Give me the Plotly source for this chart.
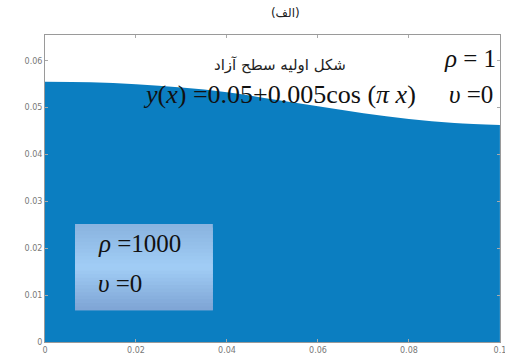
import plotly.graph_objects as go

# Initial free-surface profile sampled along the tank
x_vals = [0.0, 0.01, 0.02, 0.03, 0.04, 0.05, 0.06, 0.07, 0.08, 0.09, 0.1]
surface = [0.0555, 0.0554, 0.0550, 0.0543, 0.0533, 0.0518, 0.0503, 0.0488, 0.0476, 0.0467, 0.0463]

x_ticks = [0, 0.02, 0.04, 0.06, 0.08, 0.1]
x_tick_text = ["0", "0.02", "0.04", "0.06", "0.08", "0.1"]
y_ticks = [0, 0.01, 0.02, 0.03, 0.04, 0.05, 0.06]
y_tick_text = ["0", "0.01", "0.02", "0.03", "0.04", "0.05", "0.06"]

water_color = "#0b7ec1"

fig = go.Figure()
fig.add_trace(go.Scatter(
    x=x_vals, y=surface, mode="lines", fill="tozeroy",
    line=dict(color=water_color, width=0, shape="spline"),
    fillcolor=water_color, hoverinfo="skip", showlegend=False,
))

# Gradient panel behind the lower-fluid properties (overlapping strips, top to bottom)
box_x0, box_x1 = 0.0066, 0.0369
box_y0, box_y1 = 0.0068, 0.0252
stops = 24
top_rgb = (138, 180, 224)
mid_rgb = (162, 206, 246)
bot_rgb = (128, 166, 214)
step = (box_y1 - box_y0) / stops
for i in range(stops):
    t = i / (stops - 1)
    if t < 0.5:
        a, b, f = top_rgb, mid_rgb, t / 0.5
    else:
        a, b, f = mid_rgb, bot_rgb, (t - 0.5) / 0.5
    c = tuple(int(a[k] + (b[k] - a[k]) * f) for k in range(3))
    y_hi = box_y1 - step * i
    y_lo = max(box_y0, y_hi - step * 2)
    fig.add_shape(type="rect", xref="x", yref="y",
                  x0=box_x0, x1=box_x1, y0=y_lo, y1=y_hi,
                  fillcolor="rgb(%d,%d,%d)" % c, line=dict(width=0), layer="above")

serif = "Liberation Serif, Times New Roman, serif"
fig.add_annotation(text="شکل اولیه سطح آزاد", xref="paper", yref="paper",
                   x=0.516, y=0.902, xanchor="center", yanchor="middle", showarrow=False,
                   font=dict(family="DejaVu Sans, Noto Sans", size=15, color="#222"))
fig.add_annotation(text="<i>y</i>(<i>x</i>) =0.05+0.005cos (<i>π x</i>)",
                   xref="paper", yref="paper", x=0.516, y=0.805,
                   xanchor="center", yanchor="middle", showarrow=False,
                   font=dict(family=serif, size=26, color="#111"))
fig.add_annotation(text="<i>ρ</i> = 1", xref="paper", yref="paper",
                   x=0.995, y=0.925, xanchor="right", yanchor="middle", showarrow=False,
                   font=dict(family=serif, size=25, color="#111"))
fig.add_annotation(text="<i>υ</i> =0", xref="paper", yref="paper",
                   x=0.99, y=0.805, xanchor="right", yanchor="middle", showarrow=False,
                   font=dict(family=serif, size=25, color="#111"))
fig.add_annotation(text="<i>ρ</i> =1000", xref="x", yref="y",
                   x=0.0113, y=0.0210, xanchor="left", yanchor="middle", showarrow=False,
                   font=dict(family=serif, size=25, color="#111"))
fig.add_annotation(text="<i>υ</i> =0", xref="x", yref="y",
                   x=0.0113, y=0.0125, xanchor="left", yanchor="middle", showarrow=False,
                   font=dict(family=serif, size=25, color="#111"))

axis_common = dict(
    showgrid=False, zeroline=False, showline=True, linecolor="#9a9a9a",
    linewidth=1, mirror="ticks", ticks="inside", ticklen=3, tickcolor="#aaaaaa",
    tickfont=dict(family="DejaVu Sans", size=8, color="#777"),
    ticklabeloverflow="allow", automargin=False,
)

fig.update_layout(
    width=505, height=361,
    margin=dict(l=45, r=5, t=35, b=19, autoexpand=False),
    paper_bgcolor="white", plot_bgcolor="white",
    title=dict(text="(الف)", x=0.565, xanchor="center", y=0.975, yanchor="top",
               font=dict(family="DejaVu Sans, Noto Sans", size=12, color="#222")),
    xaxis=dict(range=[0, 0.10002], tickvals=x_ticks, ticktext=x_tick_text, **axis_common),
    yaxis=dict(range=[0, 0.0655], tickvals=y_ticks, ticktext=y_tick_text, **axis_common),
)

fig.write_html("out.html")
